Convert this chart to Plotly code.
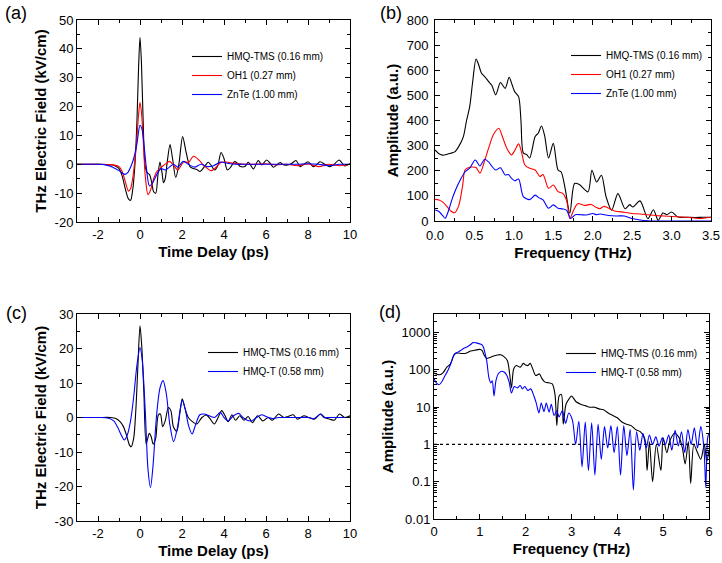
import plotly.graph_objects as go

# ---------------- (a) time-domain waveforms ----------------
A_T_HMQ = [-3.0, -2.0, -1.5, -1.2, -1.0, -0.85, -0.7, -0.55, -0.45, -0.35,
           -0.25, -0.15, -0.07, 0.0, 0.07, 0.15, 0.25, 0.35, 0.45, 0.55,
           0.65, 0.75, 0.85, 0.95, 1.05, 1.12, 1.2, 1.3, 1.43, 1.55,
           1.7, 1.85, 2.03, 2.2, 2.38, 2.55, 2.7, 2.86, 3.05, 3.25,
           3.4, 3.55, 3.7, 3.86, 4.0, 4.16, 4.32, 4.49, 4.62, 4.76,
           4.99, 5.16, 5.4, 5.63, 5.8, 6.03, 6.2, 6.35, 6.5, 6.67,
           6.82, 6.98, 7.2, 7.43, 7.62, 7.8, 8.0, 8.25, 8.4, 8.57,
           8.8, 9.05, 9.25, 9.48, 9.76, 10.0]
A_E_HMQ = [0, 0, -0.1, -0.5, -1.5, -4, -8.5, -12, -12.5, -9,
           -1, 14, 33, 44, 35, 15, -1, -3, -3.5, -6,
           -9.5, -10, -4, 0.8, -3, -6.4, -5, 1, 6.8, 2,
           -4.6, 0, 9.6, 4, -0.8, -1.5, -1.8, -2.5, -1, 0.7,
           -0.5, -2, -0.5, 4.1, 2, -2, -1, 0.9, 0.5, -0.7,
           -0.8, 0.7, -1.6, 1.3, -0.2, 1.5, 0.3, -1, -0.3, 0.6,
           -0.2, -0.3, 0.2, 1.3, -0.8, 0, 0.9, -0.8, -0.2, 0.9,
           0, -0.8, 0, 1.5, -0.6, 0.3]

A_T_OH1 = [-3.0, -2.0, -1.5, -1.2, -1.0, -0.85, -0.7, -0.55, -0.45, -0.35,
           -0.25, -0.15, -0.07, 0.0, 0.07, 0.15, 0.25, 0.38, 0.5, 0.65,
           0.8, 0.95, 1.1, 1.25, 1.4, 1.6, 1.8, 1.95, 2.1, 2.3,
           2.55, 2.8, 3.05, 3.4, 3.6, 3.85, 4.1, 4.5, 5.0, 5.5,
           6.0, 6.5, 7.0, 7.5, 8.0, 8.5, 9.0, 9.5, 10.0]
A_E_OH1 = [0, 0, -0.1, -0.3, -0.8, -2.5, -6, -9.3, -8.5, -5,
           1, 9, 17, 21.5, 18, 9, -4, -10.5, -9, -5,
           -2.5, -1.5, -0.5, 0.3, 1, -0.3, -2, -0.5, 1, 0.5,
           2.8, 1.5, -0.5, -2.2, -1.2, 0.6, 0.8, 0.3, 0, 0,
           0.2, -0.2, 0, -0.5, 0.1, -0.8, 0, -0.5, 0]

A_T_ZNTE = [-3.0, -2.0, -1.6, -1.3, -1.0, -0.85, -0.72, -0.6, -0.45, -0.3,
            -0.15, 0.0, 0.1, 0.2, 0.3, 0.45, 0.6, 0.8, 1.0, 1.2,
            1.4, 1.6, 1.8, 2.05, 2.3, 2.6, 2.9, 3.2, 3.5, 3.85,
            4.2, 4.6, 5.0, 5.5, 6.0, 6.5, 7.0, 7.5, 8.0, 8.5,
            9.0, 9.5, 10.0]
A_E_ZNTE = [0, 0, -0.3, -1, -2.2, -3, -3.5, -3, -1, 2,
            7, 13.5, 12, 6, -1, -7.5, -6.5, -3.5, -1.5, -2,
            -1, 0, -1, 1, 0, -1, 0, -0.8, -0.5, 0.8,
            0.3, 0, 0, 0, 0, 0, 0, 0, 0.2, 0,
            -0.5, 0, 0]

# ---------------- (b) spectra ----------------
B_F_HMQ = [0, 0.05, 0.1, 0.15, 0.2, 0.25, 0.3, 0.36, 0.4, 0.44,
           0.48, 0.52, 0.55, 0.59, 0.63, 0.68, 0.72, 0.77, 0.83, 0.89,
           0.94, 0.98, 1.01, 1.06, 1.09, 1.12, 1.16, 1.2, 1.27, 1.31,
           1.35, 1.39, 1.44, 1.5, 1.56, 1.6, 1.65, 1.71, 1.77, 1.83,
           1.94, 1.99, 2.05, 2.11, 2.17, 2.24, 2.32, 2.41, 2.47, 2.51,
           2.6, 2.7, 2.77, 2.83, 2.89, 2.94, 3.0, 3.08, 3.2, 3.3,
           3.4, 3.5]
B_A_HMQ = [283, 268, 262, 265, 270, 275, 296, 336, 400, 455,
           560, 645, 625, 588, 575, 555, 540, 502, 551, 528,
           572, 540, 515, 495, 400, 271, 265, 251, 336, 350,
           378, 340, 251, 309, 203, 195, 130, 31, 149, 145,
           116, 202, 155, 182, 96, 43, 109, 49, 65, 56,
           80, 9, 45, 3, 32, 25, 36, 16, 15, 14,
           15, 15]

B_F_OH1 = [0, 0.05, 0.1, 0.15, 0.2, 0.25, 0.3, 0.35, 0.38, 0.42,
           0.47, 0.52, 0.57, 0.62, 0.68, 0.74, 0.81, 0.85, 0.91, 0.97,
           1.01, 1.06, 1.1, 1.14, 1.2, 1.27, 1.33, 1.37, 1.44, 1.5,
           1.56, 1.62, 1.67, 1.71, 1.76, 1.81, 1.9, 1.98, 2.04, 2.09,
           2.14, 2.19, 2.28, 2.4, 2.5, 2.6, 2.7, 2.8, 2.9, 3.0,
           3.2, 3.35, 3.5]
B_A_OH1 = [86, 84, 75, 58, 40, 33, 60, 140, 203, 212,
           215, 213, 190, 230, 290, 343, 369, 340, 290, 263,
           280, 307, 270, 223, 210, 203, 177, 185, 130, 143,
           117, 110, 80, 9, 45, 69, 62, 66, 55, 49,
           58, 53, 40, 35, 30, 28, 25, 22, 20, 18,
           15, 10, 15]

B_F_ZNTE = [0, 0.05, 0.1, 0.13, 0.17, 0.22, 0.27, 0.32, 0.38, 0.44,
            0.51, 0.57, 0.63, 0.68, 0.72, 0.77, 0.83, 0.89, 0.93, 0.97,
            1.01, 1.06, 1.12, 1.2, 1.27, 1.32, 1.37, 1.44, 1.5, 1.56,
            1.62, 1.67, 1.72, 1.78, 1.85, 1.92, 2.0, 2.05, 2.1, 2.15,
            2.2, 2.3, 2.4, 2.5, 2.6, 2.7, 2.8, 3.0, 3.25, 3.5]
B_A_ZNTE = [44, 38, 20, 11, 40, 90, 130, 163, 195, 210,
            243, 219, 246, 235, 218, 203, 212, 183, 185, 170,
            160, 167, 97, 85, 103, 92, 84, 51, 64, 51,
            48, 42, 10, 25, 25, 24, 30, 25, 28, 25,
            22, 20, 20, 10, 4, 1, 0, 0, 0, 0]

# ---------------- (c) time-domain waveforms ----------------
C_T_HMQ = [-3.0, -2.0, -1.4, -1.15, -0.95, -0.8, -0.65, -0.5, -0.42, -0.3,
           -0.2, -0.1, 0.0, 0.08, 0.18, 0.29, 0.37, 0.44, 0.53, 0.63,
           0.75, 0.87, 0.97, 1.08, 1.2, 1.35, 1.47, 1.59, 1.75, 1.88,
           2.01, 2.15, 2.3, 2.5, 2.7, 2.95, 3.17, 3.35, 3.54, 3.72,
           3.89, 4.05, 4.2, 4.38, 4.55, 4.75, 4.95, 5.15, 5.35, 5.6,
           5.85, 6.1, 6.3, 6.6, 6.85, 7.05, 7.3, 7.5, 7.8, 8.05,
           8.3, 8.6, 8.8, 9.05, 9.25, 9.5, 9.75, 10.0]
C_E_HMQ = [0, 0, 0, -0.3, -1.2, -2.5, -5, -8, -8.5, -6,
           2, 15, 26.6, 21, 8, -7.7, -6, -4.6, -5.5, -7.7,
           -6, 0.7, 1, -2.7, -1, 2.9, 2, -2.7, -4, 0.5,
           5.4, 2.5, 0, -1.2, -1.9, 0, 0.7, -0.5, -1.9, 0,
           2, 0.5, -1.2, 0.8, -0.8, 0.5, -0.8, 0.3, -1.5, 0.5,
           -1, 0, -0.8, 1, 0, 0.3, 0.8, -0.5, 0.5, 0,
           -0.5, 1, 0, -0.5, -0.8, 1, 0, 0.5]

C_T_HMQT = [-3.0, -2.0, -1.5, -1.25, -1.05, -0.9, -0.75, -0.6, -0.45, -0.3,
            -0.15, 0.0, 0.1, 0.25, 0.38, 0.5, 0.62, 0.78, 0.95, 1.1,
            1.25, 1.42, 1.6, 1.78, 1.92, 2.02, 2.15, 2.32, 2.48, 2.65,
            2.85, 3.05, 3.3, 3.55, 3.82, 4.0, 4.2, 4.45, 4.7, 4.9,
            5.1, 5.3, 5.55, 5.8, 6.0, 6.3, 6.6, 7.0, 7.5, 8.0,
            8.3, 8.6, 8.75, 9.0, 9.5, 10.0]
C_E_HMQT = [0, 0, -0.2, -1, -3, -5, -6.5, -5, -1, 6,
            15, 20.3, 17, 2, -15, -20.3, -14, 0, 8.5, 10.7,
            7, -2, -7, -3, 2.5, 5, 2.5, -2.5, -4.8, -2,
            0.8, 1, 0.5, 0, 1.5, 0, -1, 0.5, 1.2, 0,
            -0.8, -1, 0, 0.8, 0.3, -0.3, 0, 0, 0, 0,
            -0.3, 1, 0, 0, 0, 0]

# ---------------- (d) spectra (log) ----------------
D_F_HMQ = [0, 0.05, 0.12, 0.2, 0.28, 0.36, 0.45, 0.52, 0.6, 0.7,
           0.8, 0.9, 1.0, 1.05, 1.1, 1.15, 1.22, 1.3, 1.38, 1.45,
           1.52, 1.6, 1.65, 1.69, 1.74, 1.8, 1.88, 1.95, 2.0, 2.05,
           2.1, 2.15, 2.22, 2.3, 2.35, 2.42, 2.5, 2.58, 2.64, 2.68,
           2.73, 2.78, 2.82, 2.88, 2.95, 3.0, 3.1, 3.2, 3.3, 3.4,
           3.5, 3.6, 3.7, 3.8, 3.9, 4.0, 4.1, 4.2, 4.3, 4.4,
           4.5, 4.6, 4.65, 4.7, 4.77, 4.85, 4.95, 5.0, 5.08, 5.15,
           5.25, 5.35, 5.42, 5.48, 5.55, 5.6, 5.67, 5.75, 5.82, 5.9,
           5.95, 6.0]
D_A_HMQ = [82, 78, 74, 85, 118, 145, 270, 285, 275, 280,
           320, 340, 355, 330, 240, 203, 215, 235, 250, 256,
           230, 178, 80, 33, 107, 131, 118, 150, 135, 131,
           150, 110, 71, 78, 60, 47, 45, 42, 22, 3.2,
           20, 22, 3.5, 12, 17, 20, 14, 12, 11, 10,
           10, 9, 8.5, 7, 6, 5.2, 4, 3.5, 3.2, 2.5,
           2.2, 1.4, 0.2, 1.2, 0.1, 1.0, 0.2, 1.5, 0.6, 1.3,
           2, 1.5, 0.8, 0.3, 1.2, 0.09, 1.0, 0.6, 0.4, 1.0,
           0.35, 0.7]

D_F_HMQT = [0, 0.05, 0.11, 0.17, 0.22, 0.3, 0.36, 0.42, 0.47, 0.52,
            0.58, 0.65, 0.73, 0.8, 0.85, 0.92, 1.0, 1.05, 1.08, 1.12,
            1.15, 1.2, 1.24, 1.27, 1.31, 1.35, 1.4, 1.46, 1.53, 1.59,
            1.64, 1.69, 1.75, 1.82, 1.88, 1.93, 1.98, 2.05, 2.11, 2.18,
            2.23, 2.29, 2.34, 2.4, 2.45, 2.51, 2.56, 2.62, 2.68, 2.73,
            2.8, 2.87, 2.94, 3.02, 3.09, 3.16, 3.23, 3.3, 3.37, 3.44,
            3.51, 3.58, 3.65, 3.72, 3.79, 3.86, 3.93, 4.0, 4.07, 4.14,
            4.21, 4.28, 4.35, 4.42, 4.49, 4.56, 4.63, 4.7, 4.77, 4.84,
            4.91, 4.98, 5.05, 5.12, 5.19, 5.26, 5.33, 5.4, 5.47, 5.54,
            5.61, 5.68, 5.75, 5.82, 5.89, 5.93, 5.97, 6.0]
D_A_HMQT = [58, 45, 40, 48, 63, 95, 140, 230, 280, 300,
            330, 380, 420, 480, 540, 530, 500, 470, 400, 260,
            178, 60, 45, 51, 20, 50, 78, 91, 88, 71,
            47, 24, 36, 33, 38, 31, 36, 28, 31, 20,
            13, 7, 13, 7.6, 13, 7.4, 12, 6, 8, 5.5,
            8, 3.7, 7, 4.5, 1.0, 4.2, 0.25, 4.0, 0.2, 3.8,
            0.15, 3.5, 0.4, 3.0, 0.8, 3.2, 0.6, 3.0, 0.15, 3.2,
            0.5, 2.5, 0.06, 2.2, 0.7, 2.0, 0.8, 1.8, 1.0, 1.6,
            0.9, 1.5, 1.0, 1.8, 0.7, 2.4, 0.9, 2.2, 0.6, 2.5,
            1.0, 2.8, 0.8, 3.0, 0.8, 0.07, 1.5, 2.0]
D_REF_LEVEL = 1.0

# ---------------- labels ----------------
NAMES_AB = ["HMQ-TMS (0.16 mm)", "OH1 (0.27 mm)", "ZnTe (1.00 mm)"]
NAMES_CD = ["HMQ-TMS (0.16 mm)", "HMQ-T (0.58 mm)"]
PANEL_LABELS = ["(a)", "(b)", "(c)", "(d)"]
T_TICKS = [-2, 0, 2, 4, 6, 8, 10]
T_TICKTEXT = ["-2", "0", "2", "4", "6", "8", "10"]
A_YTICKS = [-20, -10, 0, 10, 20, 30, 40, 50]
A_YTICKTEXT = ["-20", "-10", "0", "10", "20", "30", "40", "50"]
C_YTICKS = [-30, -20, -10, 0, 10, 20, 30]
C_YTICKTEXT = ["-30", "-20", "-10", "0", "10", "20", "30"]
D_YTICKS = [0.01, 0.1, 1, 10, 100, 1000]
D_YTICKTEXT = ["0.01", "0.1", "1", "10", "100", "1000"]

BLACK, RED, BLUE = "#000000", "#ff0000", "#0000ff"
FONT = "Arial, Liberation Sans, sans-serif"

fig = go.Figure()

def line(x, y, color, name, xa, ya, leg, show=True, width=1.1):
    fig.add_trace(go.Scatter(x=x, y=y, mode="lines", name=name,
                             line=dict(color=color, width=width, shape="spline", smoothing=0.8),
                             xaxis=xa, yaxis=ya, legend=leg, showlegend=show))

line(A_T_HMQ, A_E_HMQ, BLACK, NAMES_AB[0], "x", "y", "legend")
line(A_T_OH1, A_E_OH1, RED, NAMES_AB[1], "x", "y", "legend")
line(A_T_ZNTE, A_E_ZNTE, BLUE, NAMES_AB[2], "x", "y", "legend")

line(B_F_HMQ, B_A_HMQ, BLACK, NAMES_AB[0], "x2", "y2", "legend2")
line(B_F_OH1, B_A_OH1, RED, NAMES_AB[1], "x2", "y2", "legend2")
line(B_F_ZNTE, B_A_ZNTE, BLUE, NAMES_AB[2], "x2", "y2", "legend2")

line(C_T_HMQ, C_E_HMQ, BLACK, NAMES_CD[0], "x3", "y3", "legend3")
line(C_T_HMQT, C_E_HMQT, BLUE, NAMES_CD[1], "x3", "y3", "legend3")

fig.add_trace(go.Scatter(x=[0, 6], y=[D_REF_LEVEL, D_REF_LEVEL], mode="lines",
                         line=dict(color=BLACK, width=1.2, dash="dot"),
                         xaxis="x4", yaxis="y4", showlegend=False))
line(D_F_HMQ, D_A_HMQ, BLACK, NAMES_CD[0], "x4", "y4", "legend4")
line(D_F_HMQT, D_A_HMQT, BLUE, NAMES_CD[1], "x4", "y4", "legend4")

W, H = 722, 563
def px(x):
    return x / W
def py(y):
    return 1 - y / H

tickfont = dict(family=FONT, size=13, color="black")
titlefont = dict(family=FONT, size=15, color="black", weight="bold")

def axis(domain, rng, title, standoff, **kw):
    d = dict(domain=domain, range=rng, showline=True, linecolor="black", linewidth=1,
             mirror="allticks", ticks="inside", ticklen=5, tickcolor="black",
             showgrid=False, zeroline=False, tickfont=tickfont, automargin=False,
             title=dict(text=title, font=titlefont, standoff=standoff))
    d.update(kw)
    return d

minor_lin = lambda dt: dict(ticks="inside", ticklen=3, tickcolor="black", dtick=dt, showgrid=False)

log_minor = [m * 10 ** e for e in range(-2, 4) for m in range(2, 10)]

legfont = dict(family=FONT, size=10, color="black")

fig.update_layout(
    width=W, height=H, margin=dict(l=0, r=0, t=0, b=0, autoexpand=False),
    paper_bgcolor="white", plot_bgcolor="white",
    font=dict(family=FONT, color="black"),
    xaxis=axis([px(77), px(350)], [-3, 10], "Time Delay (ps)", 5, anchor="y",
               tickmode="array", tickvals=T_TICKS, ticktext=T_TICKTEXT, minor=minor_lin(1)),
    yaxis=axis([py(222), py(20)], [-20, 50], "THz Electric Field (kV/cm)", 4, anchor="x",
               tickmode="array", tickvals=A_YTICKS, ticktext=A_YTICKTEXT, minor=minor_lin(5)),
    xaxis2=axis([px(435), px(711)], [0, 3.5], "Frequency (THz)", 5, anchor="y2",
                dtick=0.5, tick0=0, tickformat=".1f", minor=minor_lin(0.25), ticklabelstandoff=2),
    yaxis2=axis([py(221), py(20)], [0, 800], "Amplitude (a.u.)", 4, anchor="x2",
                dtick=100, tick0=0, minor=minor_lin(50), ticklabelstandoff=3),
    xaxis3=axis([px(77), px(350)], [-3, 10], "Time Delay (ps)", 5, anchor="y3",
                tickmode="array", tickvals=T_TICKS, ticktext=T_TICKTEXT, minor=minor_lin(1)),
    yaxis3=axis([py(521), py(314)], [-30, 30], "THz Electric Field (kV/cm)", 4, anchor="x3",
                tickmode="array", tickvals=C_YTICKS, ticktext=C_YTICKTEXT, minor=minor_lin(5)),
    xaxis4=axis([px(434), px(709)], [0, 6], "Frequency (THz)", 5, anchor="y4",
                dtick=1, tick0=0, minor=minor_lin(0.5)),
    yaxis4=axis([py(519), py(314)], [-2, 3.5], "Amplitude (a.u.)", 4, anchor="x4", type="log",
                tickmode="array", tickvals=D_YTICKS, ticktext=D_YTICKTEXT,
                minor=dict(ticks="inside", ticklen=3, tickcolor="black", tickvals=log_minor, showgrid=False)),
    legend=dict(x=px(187), y=py(42), xanchor="left", yanchor="top", bgcolor="rgba(0,0,0,0)",
                font=legfont, tracegroupgap=0),
    legend2=dict(x=px(566), y=py(41), xanchor="left", yanchor="top", bgcolor="rgba(0,0,0,0)",
                 font=legfont, tracegroupgap=0),
    legend3=dict(x=px(203), y=py(338), xanchor="left", yanchor="top", bgcolor="rgba(0,0,0,0)",
                 font=legfont, tracegroupgap=0),
    legend4=dict(x=px(561), y=py(339), xanchor="left", yanchor="top", bgcolor="rgba(0,0,0,0)",
                 font=legfont, tracegroupgap=0),
)

label_pos = [(3, 13), (378, 13), (4, 313), (377, 312)]
for txt, (lx, ly) in zip(PANEL_LABELS, label_pos):
    fig.add_annotation(text=txt, x=px(lx), y=py(ly), xref="paper", yref="paper",
                       xanchor="left", yanchor="middle", showarrow=False,
                       font=dict(family=FONT, size=18, color="black"))

fig.write_html("out.html", config={"displayModeBar": False},
               post_script="document.body.style.margin='0px';")
